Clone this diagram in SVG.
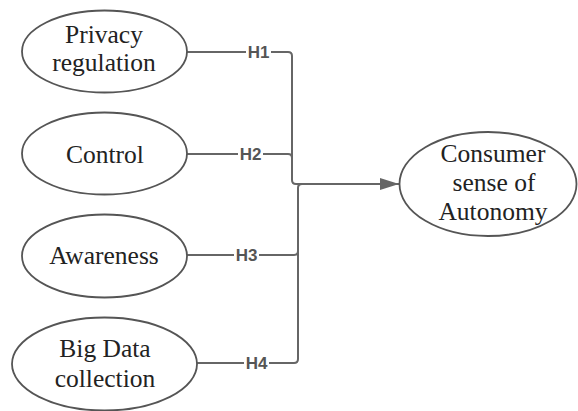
<svg xmlns="http://www.w3.org/2000/svg" width="578" height="411" viewBox="0 0 578 411">
<defs>
<style>
.node ellipse{fill:#fff;stroke:#555;stroke-width:1.8}
.node text{font-family:"Liberation Serif","Times New Roman",serif;font-size:25.5px;fill:#222;text-anchor:middle}
.conn path{fill:none;stroke:#666;stroke-width:2}
.lbl rect{fill:#fff}
.lbl text{font-family:"Liberation Sans",Arial,sans-serif;font-size:17px;font-weight:bold;fill:#555;text-anchor:middle}
</style>
<marker id="arr" markerUnits="userSpaceOnUse" markerWidth="20" markerHeight="12" refX="19" refY="6" orient="auto">
<path d="M0,0 L19,6 L0,12 Z" fill="#666"/>
</marker>
</defs>
<rect width="578" height="411" fill="#fff"/>
<g id="connectors" class="conn">
<path d="M187,52 H288 Q292,52 292,56 V180 Q292,184 296,184 H399" marker-end="url(#arr)"/>
<path d="M187,154 H288 Q292,154 292,158"/>
<path d="M187,255 H294 Q298,255 298,251"/>
<path d="M197,363 H294 Q298,363 298,359 V188 Q298,184 302,184"/>
<g class="lbl">
<rect x="246" y="44" width="25" height="16"/><text x="258.5" y="58">H1</text>
<rect x="238" y="146" width="25" height="16"/><text x="250.5" y="160">H2</text>
<rect x="234" y="247" width="25" height="16"/><text x="246.5" y="261">H3</text>
<rect x="244" y="355" width="25" height="16"/><text x="256.5" y="369">H4</text>
</g>
</g>
<g id="privacy" class="node">
<ellipse cx="104.5" cy="51.5" rx="82.5" ry="41"/>
<text x="104" y="43">Privacy</text>
<text x="104" y="71">regulation</text>
</g>
<g id="control" class="node">
<ellipse cx="104.5" cy="153.5" rx="82.5" ry="41"/>
<text x="105" y="163">Control</text>
</g>
<g id="awareness" class="node">
<ellipse cx="104.5" cy="256" rx="82.5" ry="41.5"/>
<text x="104" y="264">Awareness</text>
</g>
<g id="bigdata" class="node">
<ellipse cx="104.5" cy="364" rx="92.5" ry="46.5"/>
<text x="105" y="357">Big Data</text>
<text x="105" y="387">collection</text>
</g>
<g id="autonomy" class="node">
<ellipse cx="488" cy="184" rx="88.5" ry="52"/>
<text x="493" y="162">Consumer</text>
<text x="494" y="191">sense of</text>
<text x="493" y="220">Autonomy</text>
</g>
</svg>
